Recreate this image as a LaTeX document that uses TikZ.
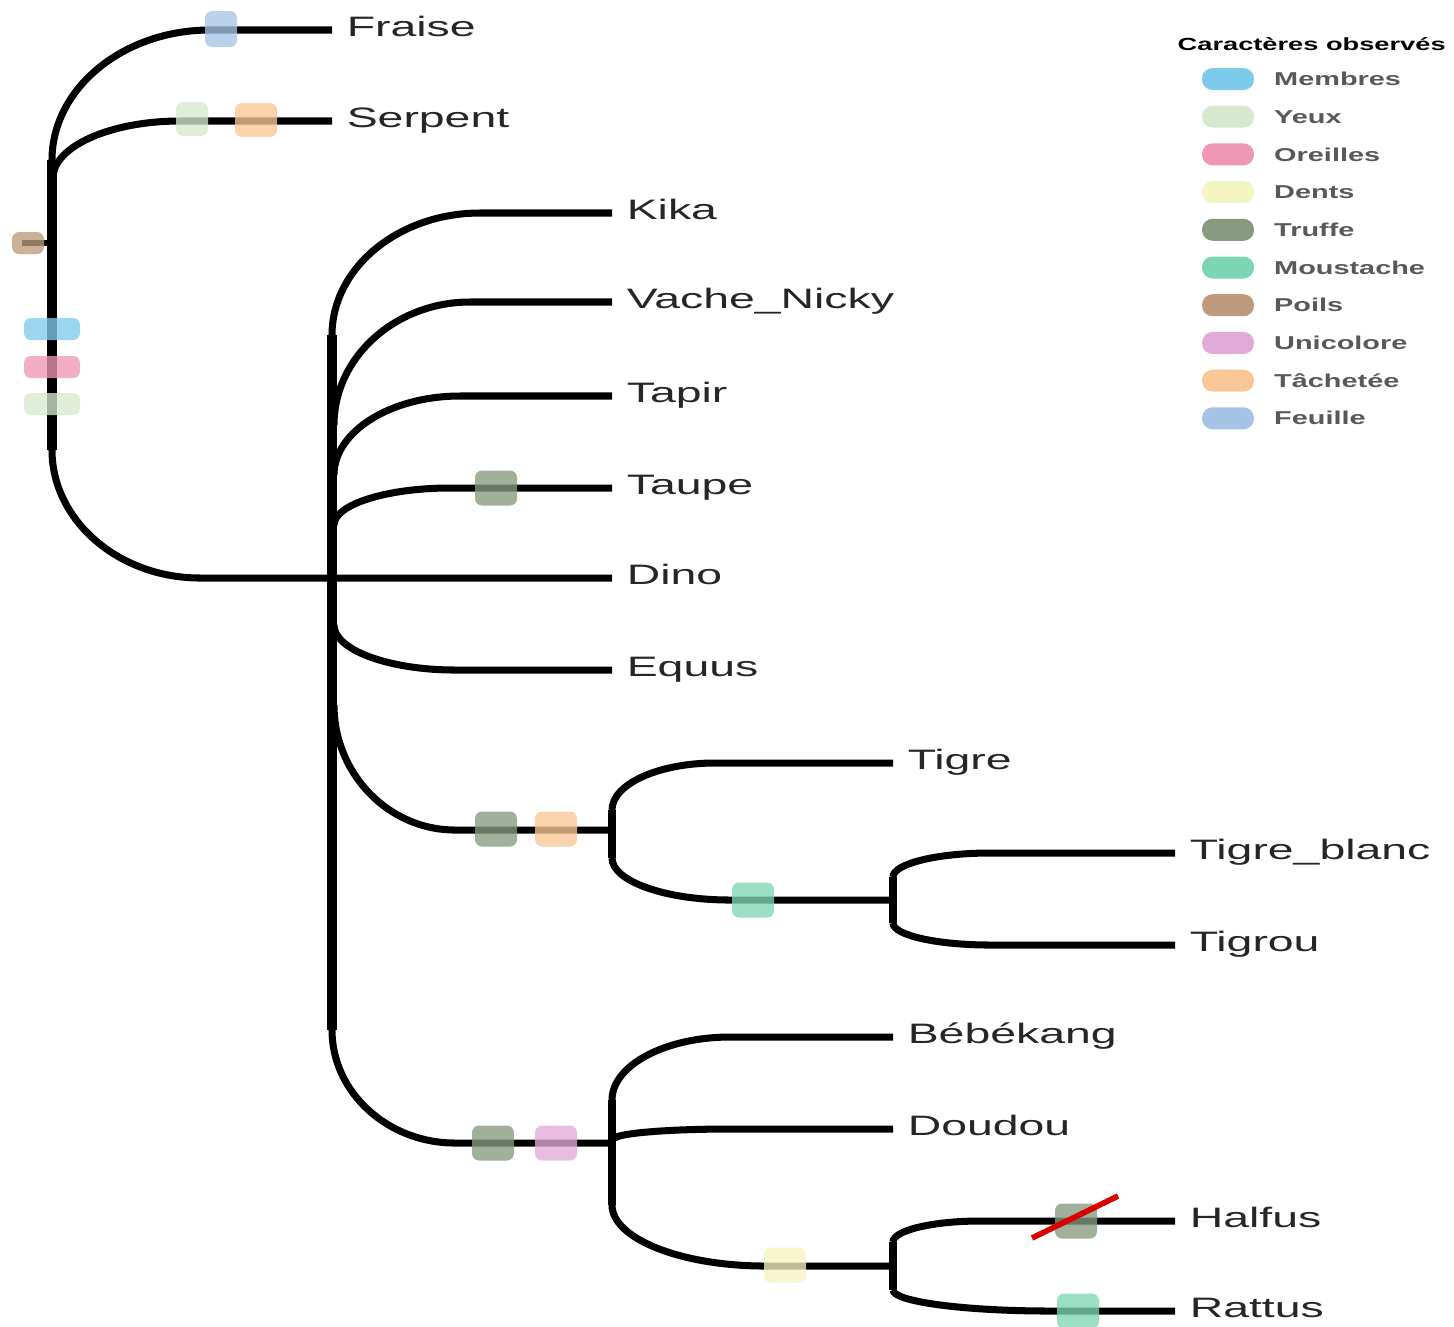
\documentclass[tikz,border=0pt]{standalone}
\usepackage{fontspec}
\usetikzlibrary{calc}
\setmainfont{Liberation Sans}
\newfontfamily\leaffont[FakeStretch=1.65]{Liberation Sans}
\newfontfamily\keyfont[FakeStretch=1.55]{Liberation Sans}

\definecolor{membres}{HTML}{7DCBEB}
\definecolor{yeux}{HTML}{D6E8CE}
\definecolor{oreilles}{HTML}{EF97B5}
\definecolor{dents}{HTML}{F4F3C2}
\definecolor{truffe}{HTML}{879A7F}
\definecolor{moustache}{HTML}{7DD6B3}
\definecolor{poils}{HTML}{BD9B7C}
\definecolor{unicolore}{HTML}{E2AAD8}
\definecolor{tachetee}{HTML}{F9C796}
\definecolor{feuille}{HTML}{A6C3E6}

\begin{document}
\begin{tikzpicture}[
    x=0.1mm, y=-0.1mm,
    branch/.style={line width=2pt},
    trunk/.style={line width=2.7pt},
    elbow/.style={to path={.. controls
        ($(\tikztostart)!0.55!(\tikztostart |- \tikztotarget)$) and
        ($(\tikztotarget)!0.55!(\tikztostart |- \tikztotarget)$) .. (\tikztotarget)}},
    leaf/.style={anchor=west, inner sep=4pt, text height=6pt, text depth=2.2pt,
      font=\leaffont\fontsize{8}{9}\selectfont, text=black!85},
    trait/.style={rectangle, rounded corners=2pt, fill=#1, fill opacity=0.78,
      inner sep=0pt, minimum width=4.2mm, minimum height=3.5mm},
    bar/.style={trait=#1, minimum width=5.6mm, minimum height=2.2mm},
    swatch/.style={rectangle, rounded corners=3pt, fill=#1, inner sep=0pt,
      minimum width=5.2mm, minimum height=2.2mm},
    keytext/.style={anchor=west, inner sep=1pt,
      font=\keyfont\bfseries\fontsize{5.3}{6}\selectfont, text=black!65},
  ]
  \useasboundingbox (0,0) rectangle (1454,1326);

  % leaves
  \node[leaf] (fraise) at (332,30) {Fraise};
  \node[leaf] (serpent) at (332,121) {Serpent};
  \node[leaf] (kika) at (612,213) {Kika};
  \node[leaf] (vache) at (612,302) {Vache\_Nicky};
  \node[leaf] (tapir) at (612,396) {Tapir};
  \node[leaf] (taupe) at (612,488) {Taupe};
  \node[leaf] (dino) at (612,578) {Dino};
  \node[leaf] (equus) at (612,670) {Equus};
  \node[leaf] (tigre) at (893,763) {Tigre};
  \node[leaf] (tigreblanc) at (1175,853) {Tigre\_blanc};
  \node[leaf] (tigrou) at (1175,945) {Tigrou};
  \node[leaf] (bebekang) at (893,1037) {Bébékang};
  \node[leaf] (doudou) at (893,1129) {Doudou};
  \node[leaf] (halfus) at (1175,1221) {Halfus};
  \node[leaf] (rattus) at (1175,1311) {Rattus};

  % forks and bends
  \coordinate (rootTop) at (52,160);
  \coordinate (rootBot) at (52,450);
  \coordinate (serpFork) at (53,178);
  \coordinate (rootBend) at (200,578);
  \coordinate (kikaFork) at (332,335);
  \coordinate (vacheFork) at (334,425);
  \coordinate (tapirFork) at (334,475);
  \coordinate (taupeFork) at (334,525);
  \coordinate (equusFork) at (334,625);
  \coordinate (felinFork) at (334,705);
  \coordinate (lowFork) at (332,1030);
  \coordinate (felin) at (612,830);
  \coordinate (tigreFork) at (612,810);
  \coordinate (catFork) at (612,858);
  \coordinate (cat) at (893,900);
  \coordinate (blancFork) at (893,877);
  \coordinate (tigrouFork) at (893,923);
  \coordinate (low) at (612,1143);
  \coordinate (bebeFork) at (612,1100);
  \coordinate (doudouFork) at (614,1139);
  \coordinate (ratFork) at (612,1205);
  \coordinate (rat) at (893,1266);
  \coordinate (halfusFork) at (893,1242);
  \coordinate (rattusFork) at (893,1290);

  % root
  \draw[branch] (rootTop) to[elbow] (210,30) -- (fraise.west);
  \draw[branch] (serpFork) to[elbow] (180,121) -- (serpent.west);
  \draw[trunk] (rootTop) -- (rootBot);
  \draw[branch] (rootBot) to[elbow] (rootBend) -- (dino.west);
  \draw[branch, line width=1.8pt] (22,243) -- (rootTop |- 0,243);

  % big clade
  \draw[trunk] (kikaFork) -- (lowFork);
  \draw[branch] (kikaFork) to[elbow] (480,213) -- (kika.west);
  \draw[branch] (vacheFork) to[elbow] (470,302) -- (vache.west);
  \draw[branch] (tapirFork) to[elbow] (460,396) -- (tapir.west);
  \draw[branch] (taupeFork) to[elbow] (450,488) -- (taupe.west);
  \draw[branch] (equusFork) to[elbow] (455,670) -- (equus.west);
  \draw[branch] (felinFork) to[elbow] (455,830) -- (felin);
  \draw[branch] (lowFork) to[elbow] (455,1143) -- (low);

  % felins
  \draw[branch, line width=2.3pt] (tigreFork) -- (catFork);
  \draw[branch] (tigreFork) to[elbow] (715,763) -- (tigre.west);
  \draw[branch] (catFork) to[elbow] (730,900) -- (cat);
  \draw[branch, line width=2.3pt] (blancFork) -- (tigrouFork);
  \draw[branch] (blancFork) to[elbow] (990,853) -- (tigreblanc.west);
  \draw[branch] (tigrouFork) to[elbow] (990,945) -- (tigrou.west);

  % bas
  \draw[branch, line width=2.3pt] (bebeFork) -- (ratFork);
  \draw[branch] (bebeFork) to[elbow] (730,1037) -- (bebekang.west);
  \draw[branch] (doudouFork) to[elbow] (730,1129) -- (doudou.west);
  \draw[branch] (ratFork) to[elbow] (765,1266) -- (rat);
  \draw[branch, line width=2.3pt] (halfusFork) -- (rattusFork);
  \draw[branch] (halfusFork) to[elbow] (980,1221) -- (halfus.west);
  \draw[branch] (rattusFork) to[elbow] (1050,1311) -- (rattus.west);

  % characters on the tree
  \node[trait=poils, minimum width=3.2mm, minimum height=2.2mm] (tPoils) at (28,243) {};
  \node[bar=membres] (tMembres) at (52,329) {};
  \node[bar=oreilles] (tOreilles) at (52,367) {};
  \node[bar=yeux] (tYeux) at (52,404) {};
  \node[trait=feuille, minimum width=3.2mm, minimum height=3.6mm] (tFeuille) at (221,29) {};
  \node[trait=yeux, minimum width=3.2mm, minimum height=3.4mm] (tYeuxS) at (192,119) {};
  \node[trait=tachetee, minimum height=3.4mm] (tTachS) at (256,120) {};
  \node[trait=truffe] (tTruffeT) at (496,488) {};
  \node[trait=truffe] (tTruffeF) at (496,829) {};
  \node[trait=tachetee] (tTachF) at (556,829) {};
  \node[trait=moustache] (tMoustF) at (753,900) {};
  \node[trait=truffe] (tTruffeB) at (493,1143) {};
  \node[trait=unicolore] (tUni) at (556,1143) {};
  \node[trait=dents] (tDents) at (785,1265) {};
  \node[trait=truffe] (tTruffeH) at (1076,1221) {};
  \node[trait=moustache] (tMoustR) at (1078,1311) {};
  \draw[red!85!black, line width=1.6pt] (1032,1238) -- (1118,1196);

  % legend
  \node[anchor=west, inner sep=0pt, font=\keyfont\bfseries\fontsize{5}{6}\selectfont]
    (keytitle) at (1177,44) {Caractères observés};
  \foreach \lab/\col [count=\i from 0] in {Membres/membres, Yeux/yeux,
      Oreilles/oreilles, Dents/dents, Truffe/truffe, Moustache/moustache,
      Poils/poils, Unicolore/unicolore, Tâchetée/tachetee, Feuille/feuille} {
    \node[swatch=\col] (key\i) at (1228,{79+37.7*\i}) {};
    \node[keytext] (keylab\i) at (1270,{79+37.7*\i}) {\lab};
  }
\end{tikzpicture}
\end{document}
